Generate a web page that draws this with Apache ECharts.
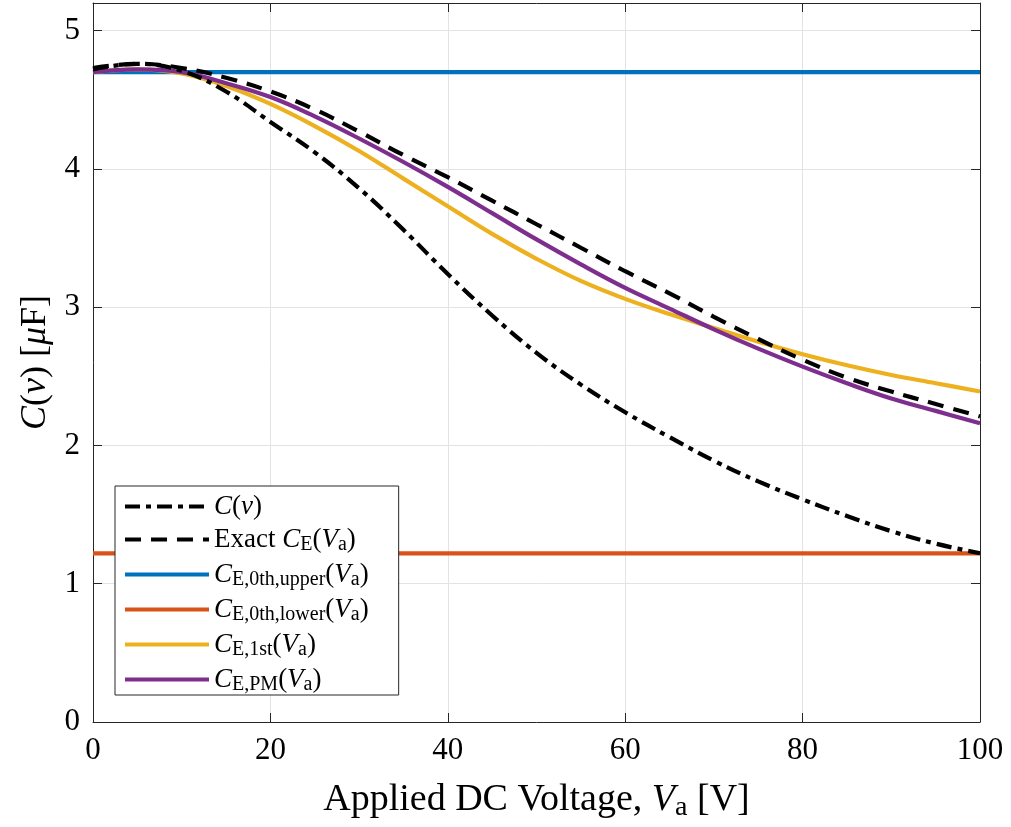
<!DOCTYPE html>
<html>
<head>
<meta charset="utf-8">
<script src="https://cdn.jsdelivr.net/npm/echarts@6/dist/echarts.min.js"></script>
<style>
  html, body { margin: 0; padding: 0; background: #fff; }
  #chart { width: 1011px; height: 827px; }
</style>
</head>
<body>
<div id="chart"></div>
<script>
// applied DC voltage [V]
var volts = [0, 5, 10, 15, 20, 25, 30, 35, 40, 45, 50, 55, 60, 65, 70, 75, 80, 85, 90, 95, 100];
// C(v), dash-dot
var cV = [4.72, 4.76, 4.71, 4.56, 4.34, 4.12, 3.86, 3.56, 3.24, 2.94, 2.67, 2.44, 2.24, 2.06, 1.89, 1.74, 1.61, 1.49, 1.38, 1.29, 1.22];
// exact C_E(V_a), dashed
var cExact = [4.73, 4.76, 4.73, 4.66, 4.56, 4.43, 4.27, 4.10, 3.94, 3.77, 3.60, 3.43, 3.26, 3.10, 2.93, 2.77, 2.62, 2.49, 2.39, 2.30, 2.21];
// 0th order bounds (constant)
var cUpper = 4.70;
var cLower = 1.22;
// 1st order
var c1st = [4.70, 4.72, 4.69, 4.60, 4.47, 4.31, 4.13, 3.93, 3.73, 3.53, 3.35, 3.19, 3.06, 2.95, 2.85, 2.75, 2.66, 2.58, 2.51, 2.45, 2.39];
// PM
var cPM = [4.70, 4.72, 4.70, 4.62, 4.52, 4.38, 4.22, 4.05, 3.87, 3.68, 3.49, 3.31, 3.14, 2.99, 2.84, 2.70, 2.57, 2.45, 2.34, 2.25, 2.16];

var xTicks = [0, 20, 40, 60, 80, 100];
var yTicks = [0, 1, 2, 3, 4, 5];

var legendNames = ['C(v)', 'Exact CE(Va)', 'CE,0th,upper(Va)', 'CE,0th,lower(Va)', 'CE,1st(Va)', 'CE,PM(Va)'];
var legendLabels = {
  'C(v)': '{i|C}{n|(}{i|v}{n|)}',
  'Exact CE(Va)': '{n|Exact }{i|C}{s|E}{n|(}{i|V}{s|a}{n|)}',
  'CE,0th,upper(Va)': '{i|C}{s|E,0th,upper}{n|(}{i|V}{s|a}{n|)}',
  'CE,0th,lower(Va)': '{i|C}{s|E,0th,lower}{n|(}{i|V}{s|a}{n|)}',
  'CE,1st(Va)': '{i|C}{s|E,1st}{n|(}{i|V}{s|a}{n|)}',
  'CE,PM(Va)': '{i|C}{s|E,PM}{n|(}{i|V}{s|a}{n|)}'
};

var FONT = '"Liberation Serif", "DejaVu Serif", serif';

function pairs(xs, ys) {
  var out = [];
  for (var i = 0; i < xs.length; i++) {
    out.push([xs[i], ys[i]]);
  }
  return out;
}
function flat(xs, v) {
  return [[xs[0], v], [xs[xs.length - 1], v]];
}

function richSet(size, lh) {
  return {
    n: { fontFamily: FONT, fontSize: size, color: '#000', lineHeight: lh },
    i: { fontFamily: FONT, fontSize: size, fontStyle: 'italic', color: '#000', lineHeight: lh },
    s: { fontFamily: FONT, fontSize: Math.round(size * 0.74), color: '#000', lineHeight: lh, padding: [Math.round(size * 0.42), 0, 0, 0] }
  };
}

var chartsDom = document.getElementById('chart');
var myCharts = echarts.init(chartsDom);

function lineSeries(name, data, color, type, z) {
  return {
    name: name,
    type: 'line',
    data: data,
    smooth: 0.4,
    symbol: 'none',
    z: z,
    lineStyle: { color: color, width: 4.2, type: type, cap: 'butt' },
    itemStyle: { color: color },
    emphasis: { disabled: true }
  };
}

var seriesArr = [
  lineSeries('C(v)', pairs(volts, cV), '#000000', [15, 6, 5, 6], 5),
  lineSeries('Exact CE(Va)', pairs(volts, cExact), '#000000', [16, 10], 5),
  lineSeries('CE,0th,upper(Va)', flat(volts, cUpper), '#0072BD', 'solid', 3),
  lineSeries('CE,0th,lower(Va)', flat(volts, cLower), '#D95319', 'solid', 3),
  lineSeries('CE,1st(Va)', pairs(volts, c1st), '#EDB120', 'solid', 3),
  lineSeries('CE,PM(Va)', pairs(volts, cPM), '#7E2F8E', 'solid', 4)
];

var axisLineStyle = { color: '#262626', width: 1 };
var gridLineStyle = { color: '#e3e3e3', width: 1 };

var option = {
  animation: false,
  backgroundColor: '#ffffff',
  grid: { left: 93, right: 31, top: 3, bottom: 102, containLabel: false },
  legend: {
    data: legendNames,
    orient: 'vertical',
    left: 115,
    top: 486,
    padding: [7, 30, 0, 8],
    itemGap: 4,
    itemWidth: 84,
    itemHeight: 14,
    itemStyle: { opacity: 0 },
    lineStyle: { width: 4 },
    backgroundColor: '#ffffff',
    borderColor: '#262626',
    borderWidth: 1,
    borderRadius: 0,
    selectedMode: false,
    formatter: function (name) { return legendLabels[name]; },
    textStyle: { fontFamily: FONT, fontSize: 27, color: '#000', rich: richSet(27, 30) }
  },
  xAxis: [{
    type: 'value',
    min: 0, max: 100, interval: 20,
    position: 'bottom',
    axisLine: { show: true, lineStyle: axisLineStyle },
    axisTick: { show: true, inside: true, length: 9, lineStyle: axisLineStyle },
    axisLabel: { margin: 13, fontFamily: FONT, fontSize: 31, color: '#000' },
    splitLine: { show: true, lineStyle: gridLineStyle },
    name: '{n|Applied DC Voltage, }{i|V}{s|a}{n| [V]}',
    nameLocation: 'middle',
    nameGap: 57,
    nameTextStyle: { rich: richSet(38, 42) }
  }, {
    type: 'value',
    min: 0, max: 100, interval: 20,
    position: 'top',
    axisLine: { show: true, onZero: false, lineStyle: axisLineStyle },
    axisTick: { show: true, inside: true, length: 9, lineStyle: axisLineStyle },
    axisLabel: { show: false },
    splitLine: { show: false }
  }],
  yAxis: [{
    type: 'value',
    min: 0, max: 5.2, interval: 1,
    position: 'left',
    axisLine: { show: true, lineStyle: axisLineStyle },
    axisTick: { show: true, inside: true, length: 9, lineStyle: axisLineStyle },
    axisLabel: {
      margin: 13, fontFamily: FONT, fontSize: 31, color: '#000',
      formatter: function (v) { return yTicks.indexOf(v) >= 0 ? String(v) : ''; }
    },
    splitLine: { show: true, lineStyle: gridLineStyle },
    name: '{i|C}{n|(}{i|v}{n|) [}{i|μ}{n|F]}',
    nameLocation: 'middle',
    nameRotate: 90,
    nameGap: 34,
    nameTextStyle: { rich: richSet(36, 40) }
  }, {
    type: 'value',
    min: 0, max: 5.2, interval: 1,
    position: 'right',
    axisLine: { show: true, onZero: false, lineStyle: axisLineStyle },
    axisTick: { show: true, inside: true, length: 9, lineStyle: axisLineStyle },
    axisLabel: { show: false },
    splitLine: { show: false }
  }],
  series: seriesArr
};
myCharts.setOption(option);
</script>
</body>
</html>
